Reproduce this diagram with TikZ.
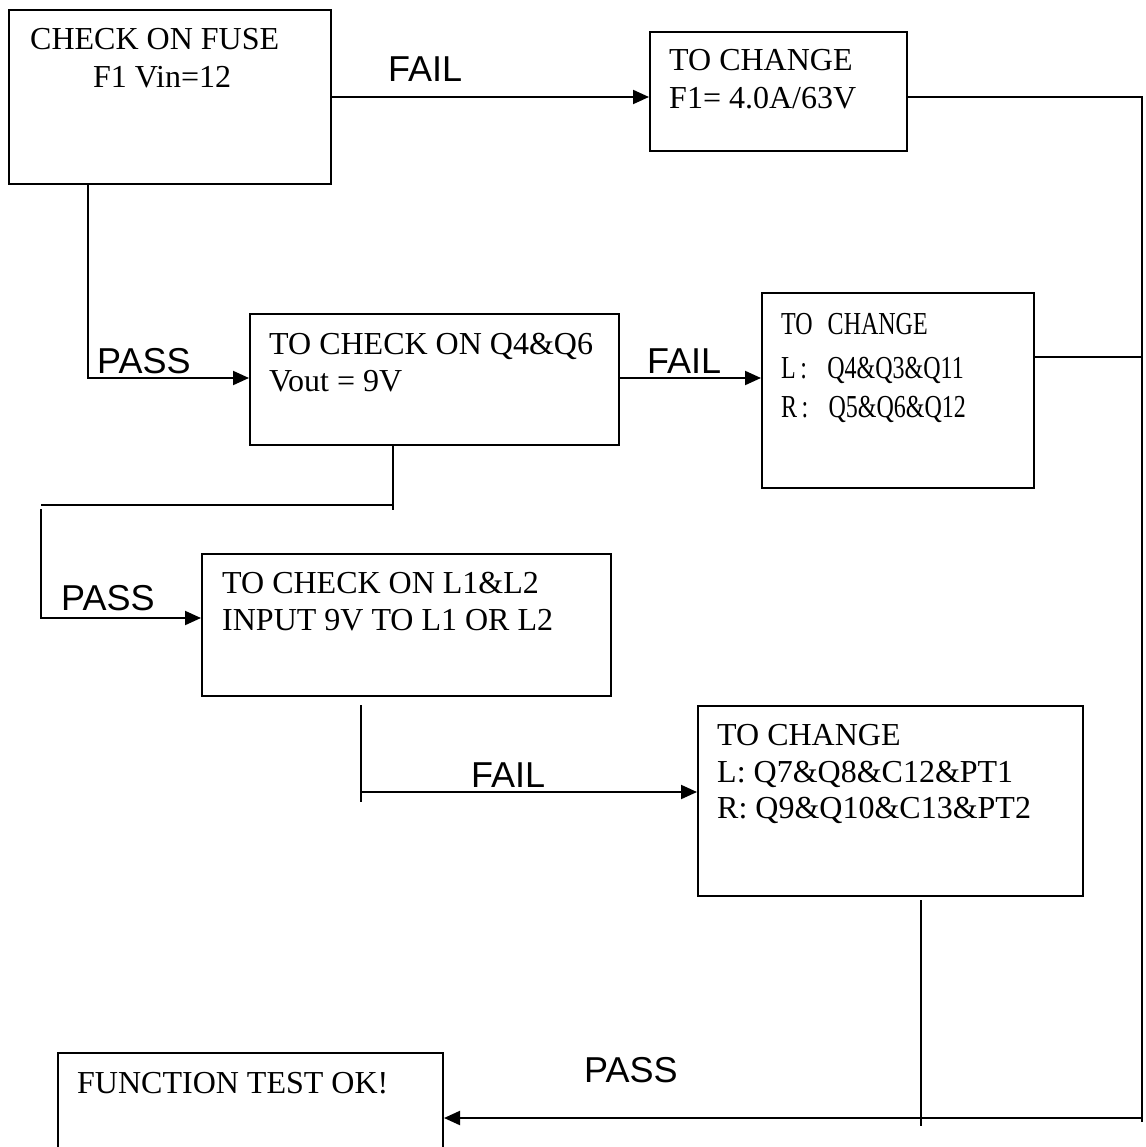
\documentclass[tikz,border=0pt]{standalone}
\usepackage{graphicx}
\usepackage{fontspec}
\setmainfont{Liberation Serif}
\newfontfamily\lsans{Liberation Sans}
\usetikzlibrary{arrows.meta,calc}
\begin{document}
\begin{tikzpicture}[x=1pt,y=-1pt,
  box/.style={draw,line width=2pt,rectangle,inner sep=0pt,anchor=north west},
  txt/.style={anchor=base west,inner sep=0pt,font=\fontsize{32}{36}\selectfont},
  lbl/.style={anchor=base west,inner sep=0pt,font=\lsans\fontsize{36}{40}\selectfont},
  con/.style={line width=2pt},
  arr/.style={con,-{Triangle[length=16pt,width=14pt]}}]
\clip (0,0) rectangle (1145,1147);
% boxes
\node[box,minimum width=322pt,minimum height=174pt] (b1) at (8,9) {};
\node[box,minimum width=257pt,minimum height=119pt] (b2) at (649,31) {};
\node[box,minimum width=369pt,minimum height=131pt] (b3) at (249,313) {};
\node[box,minimum width=272pt,minimum height=195pt] (b4) at (761,292) {};
\node[box,minimum width=409pt,minimum height=142pt] (b5) at (201,553) {};
\node[box,minimum width=385pt,minimum height=190pt] (b6) at (697,705) {};
\node[box,minimum width=385pt,minimum height=130pt] (b7) at (57,1052) {};
% box texts
\node[txt] (t1a) at (30,50) {CHECK ON FUSE};
\node[txt] (t1b) at (93,88) {F1 Vin=12};
\node[txt] (t2a) at (669,71) {TO CHANGE};
\node[txt] (t2b) at (669,109) {F1= 4.0A/63V};
\node[txt] (t3a) at (269,354) {TO CHECK ON Q4\&Q6};
\node[txt] (t3b) at (269,391) {Vout = 9V};
\node[txt] (t4a) at (781,334) {\scalebox{0.75}[1]{TO\hspace{20pt}CHANGE}};
\node[txt] (t4b) at (781,378) {\scalebox{0.75}[1]{L\hspace{6pt}:\hspace{27pt}Q4\&Q3\&Q11}};
\node[txt] (t4c) at (781,417) {\scalebox{0.75}[1]{R\hspace{6pt}:\hspace{27pt}Q5\&Q6\&Q12}};
\node[txt] (t5a) at (222,593) {TO CHECK ON L1\&L2};
\node[txt] (t5b) at (222,630) {INPUT 9V TO L1 OR L2};
\node[txt] (t6a) at (717,745) {TO CHANGE};
\node[txt] (t6b) at (717,782) {L: Q7\&Q8\&C12\&PT1};
\node[txt] (t6c) at (717,818) {R: Q9\&Q10\&C13\&PT2};
\node[txt] (t7a) at (77,1093) {FUNCTION TEST OK!};
% labels
\node[lbl] (l1) at (388,82) {FAIL};
\node[lbl] (l2) at (97,373) {PASS};
\node[lbl] (l3) at (647,373) {FAIL};
\node[lbl] (l4) at (61,610) {PASS};
\node[lbl] (l5) at (471,787) {FAIL};
\node[lbl] (l6) at (584,1082) {PASS};
% coordinates
\coordinate (r1) at (1142,97);
\coordinate (r2) at (1142,357);
\coordinate (r3) at (1142,1118);
\coordinate (r4) at (1142,1122);
\coordinate (p1) at (88,378);
\coordinate (p2) at (393,510);
\coordinate (p3) at (41,505);
\coordinate (p3b) at (393,505);
\coordinate (p4) at (41,509);
\coordinate (p5) at (41,618);
\coordinate (p6) at (361,705);
\coordinate (p7) at (361,802);
\coordinate (p8) at (361,792);
\coordinate (p9) at (921,900);
\coordinate (p10) at (921,1126);
% connectors
\draw[arr] (b1.east |- r1) -- (r1 -| b2.west);
\draw[con] (b2.east |- r1) -- (r1) -- (r4);
\draw[arr] (b1.south -| p1) -- (p1) -- (p1 -| b3.west);
\draw[arr] (b3.east |- p1) -- (p1 -| b4.west);
\draw[con] (b4.east |- r2) -- (r2);
\draw[con] (b3.south -| p2) -- (p2);
\draw[con] (p3) -- (p3b);
\draw[arr] (p4) -- (p5) -- (p5 -| b5.west);
\draw[con] (p6) -- (p7);
\draw[arr] (p8) -- (p8 -| b6.west);
\draw[con] (p9) -- (p10);
\draw[arr] (r3) -- (r3 -| b7.east);
\end{tikzpicture}
\end{document}
